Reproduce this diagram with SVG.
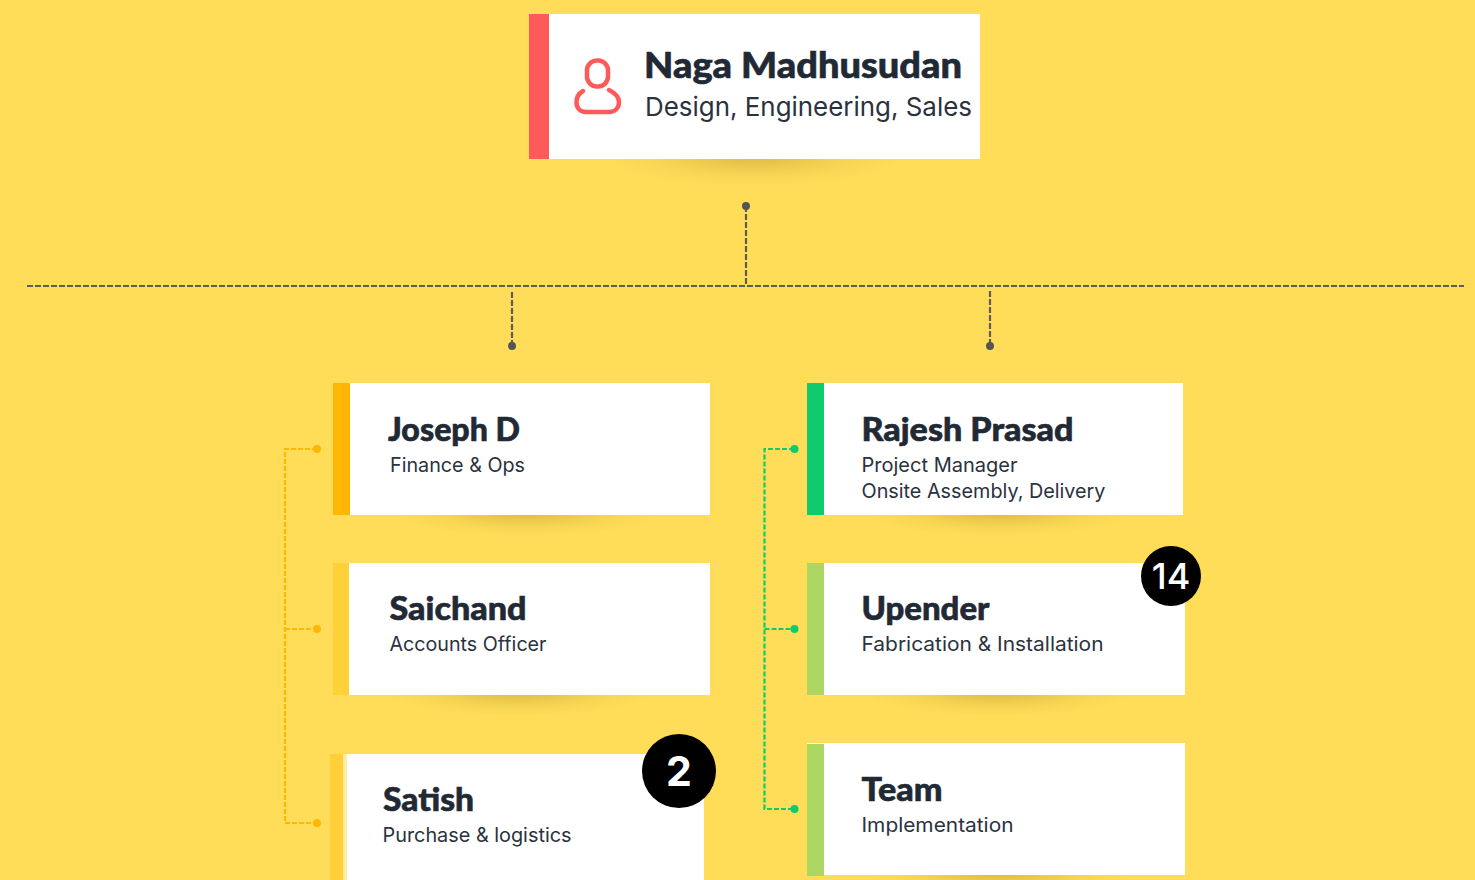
<svg xmlns="http://www.w3.org/2000/svg" width="1475" height="880" viewBox="0 0 1475 880">
<style>
.card{fill:#fff}
.t{font-family:"Lato","Liberation Sans",sans-serif;font-weight:900;fill:#212934;stroke:#212934;stroke-width:.6}
.t1{font-size:36px}
.t2{font-size:33px}
.s{font-family:"Inter","Noto Sans",sans-serif;font-weight:400;fill:#2a3240;font-size:20px}
.s1{font-size:26px}
.b{font-family:"Inter","Liberation Sans",sans-serif;fill:#fff;text-anchor:middle}
.dk{stroke:#5c5c5e;stroke-width:2.200;stroke-dasharray:6 2;fill:none}
.or{stroke:#FFB703;stroke-width:2.200;stroke-dasharray:5 2;fill:none}
.gr{stroke:#0FCB6E;stroke-width:2.200;stroke-dasharray:5 2;fill:none}
</style>
<defs>
<radialGradient id="sh"><stop offset="0" stop-color="#8a6a10" stop-opacity=".3"/><stop offset=".35" stop-color="#8a6a10" stop-opacity=".17"/><stop offset=".7" stop-color="#8a6a10" stop-opacity=".05"/><stop offset="1" stop-color="#8a6a10" stop-opacity="0"/></radialGradient>
</defs>
<rect width="1475" height="880" fill="#FFDD59"/>
<g id="shadows" fill="url(#sh)">
<ellipse cx="754" cy="156" rx="150" ry="30"/>
<ellipse cx="526" cy="512" rx="135" ry="24"/>
<ellipse cx="518" cy="692" rx="135" ry="24"/>
<ellipse cx="998" cy="512" rx="135" ry="24"/>
<ellipse cx="998" cy="692" rx="135" ry="24"/>
<ellipse cx="998" cy="873" rx="135" ry="24"/>
</g>
<g id="connectors">
<path class="dk" d="M27 286H1464"/>
<path class="dk" d="M746 206V286"/>
<path class="dk" d="M512 292V346"/>
<path class="dk" d="M990 291V346"/>
<g fill="#555"><circle cx="746" cy="206" r="4"/><circle cx="512" cy="346" r="4"/><circle cx="990" cy="346" r="4"/></g>
<path class="or" d="M317 449H285V823H317M285 629H317"/>
<g fill="#FFB703"><circle cx="317" cy="449" r="4"/><circle cx="317" cy="629" r="4"/><circle cx="317" cy="823" r="4"/></g>
<path class="gr" d="M794 449H764.500V809H794M764.500 629H794"/>
<g fill="#0FCB6E"><circle cx="794.500" cy="449" r="4"/><circle cx="794.500" cy="629" r="4"/><circle cx="794.500" cy="809" r="4"/></g>
</g>
<g id="node-naga">
<rect class="card" x="529" y="14" width="451" height="145"/>
<rect x="529" y="14" width="20" height="145" fill="#FF5A5A"/>
<g fill="none" stroke="#FF5A5A" stroke-width="4.500" stroke-linecap="round">
<rect x="587" y="60.500" width="21" height="26" rx="10"/>
<path d="M583 91C578 94 576.500 98 576.500 102C576.500 108 580 112 586 112H609C615 112 619 108 619 102C619 98 617 94 609 90"/>
</g>
<text class="t t1" x="644" y="77.500" textLength="318" lengthAdjust="spacingAndGlyphs">Naga Madhusudan</text>
<text class="s s1" x="645" y="115.500" textLength="327" lengthAdjust="spacingAndGlyphs">Design, Engineering, Sales</text>
</g>
<g id="node-joseph">
<rect class="card" x="333" y="383" width="377" height="132"/>
<rect x="333" y="383" width="17" height="132" fill="#FFB703"/>
<text class="t t2" x="388" y="440.500" textLength="132" lengthAdjust="spacingAndGlyphs">Joseph D</text>
<text class="s" x="390" y="472" textLength="135" lengthAdjust="spacingAndGlyphs">Finance &amp; Ops</text>
</g>
<g id="node-saichand">
<rect class="card" x="333" y="563" width="377" height="132"/>
<rect x="333" y="563" width="16" height="132" fill="#FFD038"/>
<text class="t t2" x="389.500" y="619.500" textLength="137" lengthAdjust="spacingAndGlyphs">Saichand</text>
<text class="s" x="389.500" y="651" textLength="157" lengthAdjust="spacingAndGlyphs">Accounts Officer</text>
</g>
<g id="node-satish">
<rect class="card" x="347" y="754" width="357" height="126"/>
<rect x="343" y="754" width="4" height="126" fill="#FFEBA8"/>
<rect x="330" y="754" width="13" height="126" fill="#FFD038"/>
<text class="t t2" x="383" y="810.500" textLength="91" lengthAdjust="spacingAndGlyphs">Satish</text>
<text class="s" x="382.500" y="842" textLength="189" lengthAdjust="spacingAndGlyphs">Purchase &amp; logistics</text>
</g>
<g id="node-rajesh">
<rect class="card" x="807" y="383" width="376" height="132"/>
<rect x="807" y="383" width="17" height="132" fill="#0FCB6E"/>
<text class="t t2" x="861.500" y="440.500" textLength="212" lengthAdjust="spacingAndGlyphs">Rajesh Prasad</text>
<text class="s" x="861.500" y="472" textLength="156" lengthAdjust="spacingAndGlyphs">Project Manager</text>
<text class="s" x="861.500" y="498" textLength="244" lengthAdjust="spacingAndGlyphs">Onsite Assembly, Delivery</text>
</g>
<g id="node-upender">
<rect class="card" x="807" y="563" width="378" height="132"/>
<rect x="807" y="563" width="17" height="132" fill="#ADD763"/>
<text class="t t2" x="861.500" y="619.500" textLength="128" lengthAdjust="spacingAndGlyphs">Upender</text>
<text class="s" x="861.500" y="651" textLength="242" lengthAdjust="spacingAndGlyphs">Fabrication &amp; Installation</text>
</g>
<g id="node-team">
<rect class="card" x="807" y="743" width="378" height="132"/>
<rect x="807" y="744" width="17" height="132" fill="#ADD763"/>
<text class="t t2" x="861.500" y="800.500" textLength="81" lengthAdjust="spacingAndGlyphs">Team</text>
<text class="s" x="861.500" y="832" textLength="152" lengthAdjust="spacingAndGlyphs">Implementation</text>
</g>
<g id="badge-14">
<circle cx="1171" cy="576" r="30" fill="#000"/>
<text class="b" x="1171" y="589" font-size="36" font-weight="500">14</text>
</g>
<g id="badge-2">
<circle cx="679" cy="771" r="37" fill="#000"/>
<text class="b" x="679" y="786" font-size="41" font-weight="700">2</text>
</g>
</svg>
